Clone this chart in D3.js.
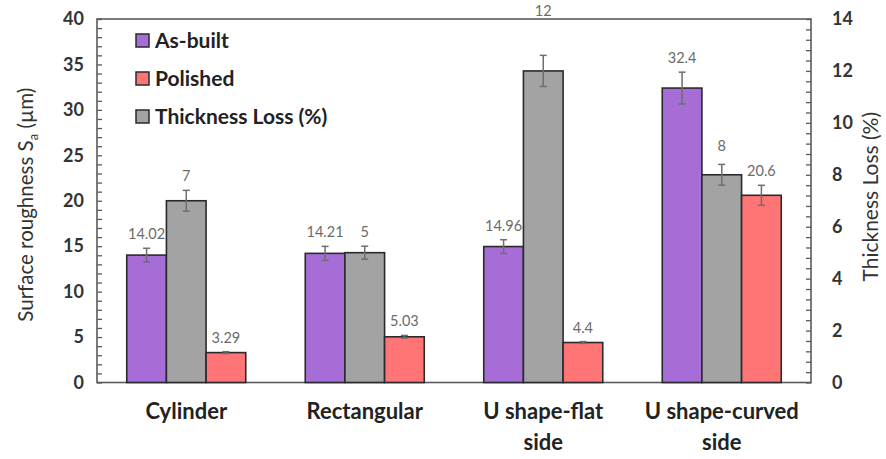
<!DOCTYPE html>
<html>
<head>
<meta charset="utf-8">
<script src="https://cdn.jsdelivr.net/npm/d3@7/dist/d3.min.js"></script>
<style>
  html, body { margin: 0; padding: 0; background: #fff; }
  svg { display: block; font-family: Lato, "Open Sans", sans-serif; }
</style>
</head>
<body>
<svg id="chart" width="886" height="459"></svg>
<script>
// Categories (second line of a label after "|")
const categories = ["Cylinder", "Rectangular", "U shape-flat|side", "U shape-curved|side"];

// Surface roughness Sa (µm), left axis
const asBuilt      = [14.02, 14.21, 14.96, 32.4];
const asBuiltErr   = [0.75, 0.77, 0.75, 1.75];
const polished     = [3.29, 5.03, 4.4, 20.6];
const polishedErr  = [0.1, 0.15, 0.1, 1.1];

// Thickness loss (%), right axis
const thicknessLoss    = [7, 5, 12, 8];
const thicknessLossErr = [0.4, 0.25, 0.6, 0.4];

// Axis ticks
const leftTicks  = [0, 5, 10, 15, 20, 25, 30, 35, 40];
const rightTicks = [0, 2, 4, 6, 8, 10, 12, 14];

// Series drawn in each group (left to right) and legend order
const series = [
  { key: "As-built",           values: asBuilt,       err: asBuiltErr,       axis: "L", color: "#A66DD6" },
  { key: "Thickness Loss (%)", values: thicknessLoss, err: thicknessLossErr, axis: "R", color: "#A3A3A3" },
  { key: "Polished",           values: polished,      err: polishedErr,      axis: "L", color: "#FF7474" }
];
const legendOrder = ["As-built", "Polished", "Thickness Loss (%)"];

// Extra lift (px) for individual value labels, by series key and category index
const labelLift = { "Thickness Loss (%)": [0, 0, 30, 4] };

const svg = d3.select("#chart");
const plot = { left: 97, right: 811, top: 19, bottom: 382.5 };

const x0 = d3.scaleBand().domain(categories).range([plot.left, plot.right]).paddingInner(0).paddingOuter(0);
const x1 = d3.scaleBand().domain(series.map(s => s.key)).range([0, x0.bandwidth()]).paddingInner(0).paddingOuter(0.75);
const yL = d3.scaleLinear().domain([0, 40]).range([plot.bottom, plot.top]);
const yR = d3.scaleLinear().domain([0, 14]).range([plot.bottom, plot.top]);

const axisColor = "#5a5a5a";

// Plot frame
svg.append("rect")
  .attr("x", plot.left).attr("y", plot.top)
  .attr("width", plot.right - plot.left).attr("height", plot.bottom - plot.top)
  .attr("fill", "none").attr("stroke", axisColor).attr("stroke-width", 1.6);

// Minor inward ticks
svg.append("g").attr("transform", `translate(${plot.left},0)`)
  .call(d3.axisLeft(yL).tickValues(d3.range(0, 40.01, 1)).tickSize(-5).tickFormat(""))
  .call(g => g.select(".domain").remove())
  .call(g => g.selectAll("line").attr("stroke", axisColor).attr("stroke-width", 1.3));
svg.append("g").attr("transform", `translate(${plot.right},0)`)
  .call(d3.axisRight(yR).tickValues(d3.range(0, 14.01, 0.4)).tickSize(-5).tickFormat(""))
  .call(g => g.select(".domain").remove())
  .call(g => g.selectAll("line").attr("stroke", axisColor).attr("stroke-width", 1.3));

// Labelled axes
svg.append("g").attr("transform", `translate(${plot.left},0)`)
  .call(d3.axisLeft(yL).tickValues(leftTicks).tickSize(0).tickPadding(13))
  .call(g => g.select(".domain").remove())
  .call(g => g.selectAll("text").attr("font-size", 18).attr("font-weight", 700)
    .attr("fill", "#333").attr("font-family", "Lato, sans-serif"));
svg.append("g").attr("transform", `translate(${plot.right},0)`)
  .call(d3.axisRight(yR).tickValues(rightTicks).tickSize(0).tickPadding(21))
  .call(g => g.select(".domain").remove())
  .call(g => g.selectAll("text").attr("font-size", 18).attr("font-weight", 700)
    .attr("fill", "#333").attr("font-family", "Lato, sans-serif"));

// Axis titles
const leftTitle = svg.append("text")
  .attr("transform", `translate(33,${(plot.top + plot.bottom) / 2 + 4}) rotate(-90)`)
  .attr("text-anchor", "middle").attr("font-size", 20.5).attr("fill", "#333");
leftTitle.append("tspan").text("Surface roughness S");
leftTitle.append("tspan").attr("font-size", 13).attr("dy", 5).text("a");
leftTitle.append("tspan").attr("dy", -5).text(" (µm)");

svg.append("text")
  .attr("transform", `translate(878,${(plot.top + plot.bottom) / 2 - 4}) rotate(-90)`)
  .attr("text-anchor", "middle").attr("font-size", 21).attr("fill", "#333")
  .text("Thickness Loss (%)");

// Bars
const groups = svg.append("g").selectAll("g")
  .data(categories.map((c, i) => ({ c, i })))
  .join("g")
  .attr("transform", d => `translate(${x0(d.c)},0)`);

const cells = groups.selectAll("g.cell")
  .data(d => series.map(s => {
    const y = s.axis === "L" ? yL : yR;
    return { s, y, v: s.values[d.i], e: s.err[d.i], i: d.i };
  }))
  .join("g").attr("class", "cell");

cells.append("rect")
  .attr("x", d => x1(d.s.key))
  .attr("y", d => d.y(d.v))
  .attr("width", x1.bandwidth())
  .attr("height", d => d.y(0) - d.y(d.v))
  .attr("fill", d => d.s.color)
  .attr("stroke", "#2a2a2e").attr("stroke-width", 1.6);

// Error bars
const errColor = "#6e6e6e";
cells.append("line")
  .attr("x1", d => x1(d.s.key) + x1.bandwidth() / 2)
  .attr("x2", d => x1(d.s.key) + x1.bandwidth() / 2)
  .attr("y1", d => d.y(d.v + d.e)).attr("y2", d => d.y(d.v - d.e))
  .attr("stroke", errColor).attr("stroke-width", 1.5);
[1, -1].forEach(sign => {
  cells.append("line")
    .attr("x1", d => x1(d.s.key) + x1.bandwidth() / 2 - 3.5)
    .attr("x2", d => x1(d.s.key) + x1.bandwidth() / 2 + 3.5)
    .attr("y1", d => d.y(d.v + sign * d.e)).attr("y2", d => d.y(d.v + sign * d.e))
    .attr("stroke", errColor).attr("stroke-width", 1.5);
});

// Value labels
cells.append("text")
  .attr("x", d => x1(d.s.key) + x1.bandwidth() / 2)
  .attr("y", d => d.y(d.v + d.e) - 9 - ((labelLift[d.s.key] || [])[d.i] || 0))
  .attr("text-anchor", "middle").attr("font-size", 14.5).attr("fill", "#6b6b6b")
  .text(d => d.v);

// Category labels
const catText = svg.append("g").selectAll("text")
  .data(categories)
  .join("text")
  .attr("x", d => x0(d) + x0.bandwidth() / 2)
  .attr("y", 419)
  .attr("text-anchor", "middle").attr("font-size", 22).attr("font-weight", 700).attr("fill", "#222");
catText.selectAll("tspan")
  .data(d => d.split("|").map((t, k) => ({ t, k, c: d })))
  .join("tspan")
  .attr("x", d => x0(d.c) + x0.bandwidth() / 2)
  .attr("dy", d => d.k === 0 ? 0 : 31)
  .text(d => d.t);

// Legend
const legend = svg.append("g").selectAll("g")
  .data(legendOrder.map(k => series.find(s => s.key === k)))
  .join("g")
  .attr("transform", (d, i) => `translate(136,${34 + i * 38})`);
legend.append("rect")
  .attr("width", 13).attr("height", 13)
  .attr("fill", d => d.color).attr("stroke", "#2a2a2e").attr("stroke-width", 1.5);
legend.append("text")
  .attr("x", 19).attr("y", 14)
  .attr("font-size", 21).attr("font-weight", 700).attr("fill", "#222")
  .text(d => d.key);
</script>
</body>
</html>
